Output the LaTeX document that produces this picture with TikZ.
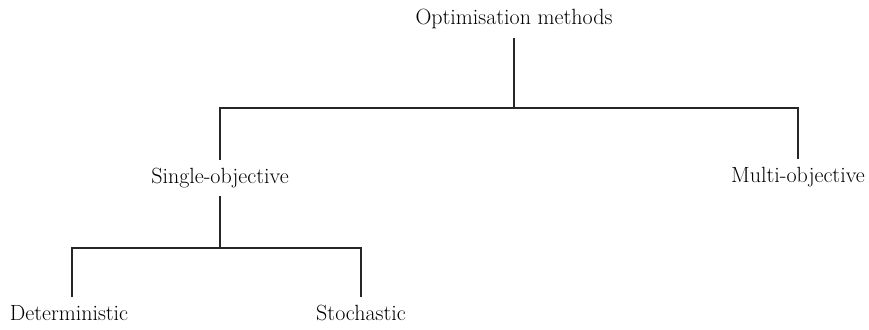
\documentclass[tikz,border=0pt]{standalone}
\tikzset{
    method/.style = {anchor = base, inner xsep = 0pt, inner ysep = 9pt, text height = 14pt, text depth = 4pt, font = \fontsize{22}{26}\selectfont},
    branch/.style = {line width = 1.6pt, black!85}
}
\begin{document}
\begin{tikzpicture}[x = 1pt, y = -1pt]
        \useasboundingbox (0, 0) rectangle (869, 329);
        \node[method] (opt) at (514, 25) {Optimisation methods};
        \node[method] (single) at (220, 183) {Single-objective};
        \node[method] (multi) at (798, 182) {Multi-objective};
        \node[method] (determ) at (69, 320) {Deterministic};
        \node[method] (stoch) at (361, 320) {Stochastic};
        \coordinate (topbar) at (514, 108);
        \coordinate (lowbar) at (220, 248);
        \draw[branch] (opt.south) -- (topbar);
        \draw[branch] (single.north) |- (topbar) -| (multi.north);
        \draw[branch] (single.south) -- (lowbar);
        \draw[branch] (determ.north -| 72, 0) |- (lowbar) -| (stoch.north);
    \end{tikzpicture}
\end{document}
